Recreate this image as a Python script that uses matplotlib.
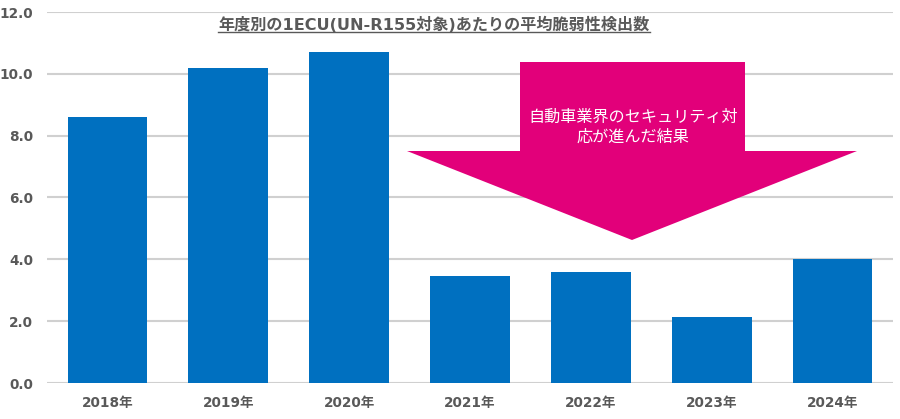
import numpy as np
import matplotlib.pyplot as plt
from matplotlib.patches import Polygon
from matplotlib.lines import Line2D

# 英数字は DejaVu Sans、日本語は Noto Sans CJK JP
plt.rcParams['font.family'] = ['DejaVu Sans', 'Noto Sans CJK JP']

# データ
years = ['2018年', '2019年', '2020年', '2021年', '2022年', '2023年', '2024年']
values = [8.6, 10.2, 10.7, 3.45, 3.6, 2.15, 4.0]
yticks = [0, 2, 4, 6, 8, 10, 12]

title = '年度別の1ECU(UN-R155対象)あたりの平均脆弱性検出数'
arrow_text = '自動車業界のセキュリティ対\n応が進んだ結果'

W, H = 900, 419
fig = plt.figure(figsize=(W / 100, H / 100), dpi=100)
ax = fig.add_axes([47 / W, 1 - 383 / H, 846 / W, 371 / H])

x = np.arange(len(years))
ax.bar(x, values, width=0.66, color='#0070C0', zorder=2)

ax.set_xlim(-0.5, len(years) - 0.5)
ax.set_ylim(0, 12)
ax.set_yticks(yticks)
ax.set_yticklabels([f'{v:.1f}' for v in yticks])
ax.set_xticks(x)
ax.set_xticklabels(years)
ax.grid(axis='y', color='#D0D0D0', linewidth=1.5, zorder=0)
for s in ax.spines.values():
    s.set_visible(False)
ax.tick_params(length=0, labelsize=9.8, labelcolor='#595959', pad=9)
ax.tick_params(axis='y', pad=10)
for lab in ax.get_xticklabels() + ax.get_yticklabels():
    lab.set_fontweight('bold')

# 矢印 (図のピクセル座標)
def fx(px):
    return px / W

def fy(py):
    return 1 - py / H

pts = [(520, 62), (745, 62), (745, 151), (857, 151), (632, 240),
       (407, 151), (520, 151)]
arrow = Polygon([(fx(a), fy(b)) for a, b in pts], closed=True,
                transform=fig.transFigure, facecolor='#E2007A',
                edgecolor='none', zorder=5)
fig.patches.append(arrow)
fig.text(fx(633), fy(127), arrow_text, color='white', fontsize=11.6,
         family='Noto Sans CJK JP', ha='center', va='center',
         linespacing=1.25, zorder=6)

# タイトル (下線付き)
t = fig.text(fx(434), fy(25), title, color='#595959', fontsize=11.6,
             fontweight='bold', ha='center', va='center')
fig.canvas.draw()
bb = t.get_window_extent(fig.canvas.get_renderer())
fig.lines.append(Line2D([bb.x0 / W, bb.x1 / W], [(bb.y0 + 1) / H] * 2,
                        transform=fig.transFigure, color='#595959',
                        linewidth=1))

fig.savefig('out.png', dpi=100)
